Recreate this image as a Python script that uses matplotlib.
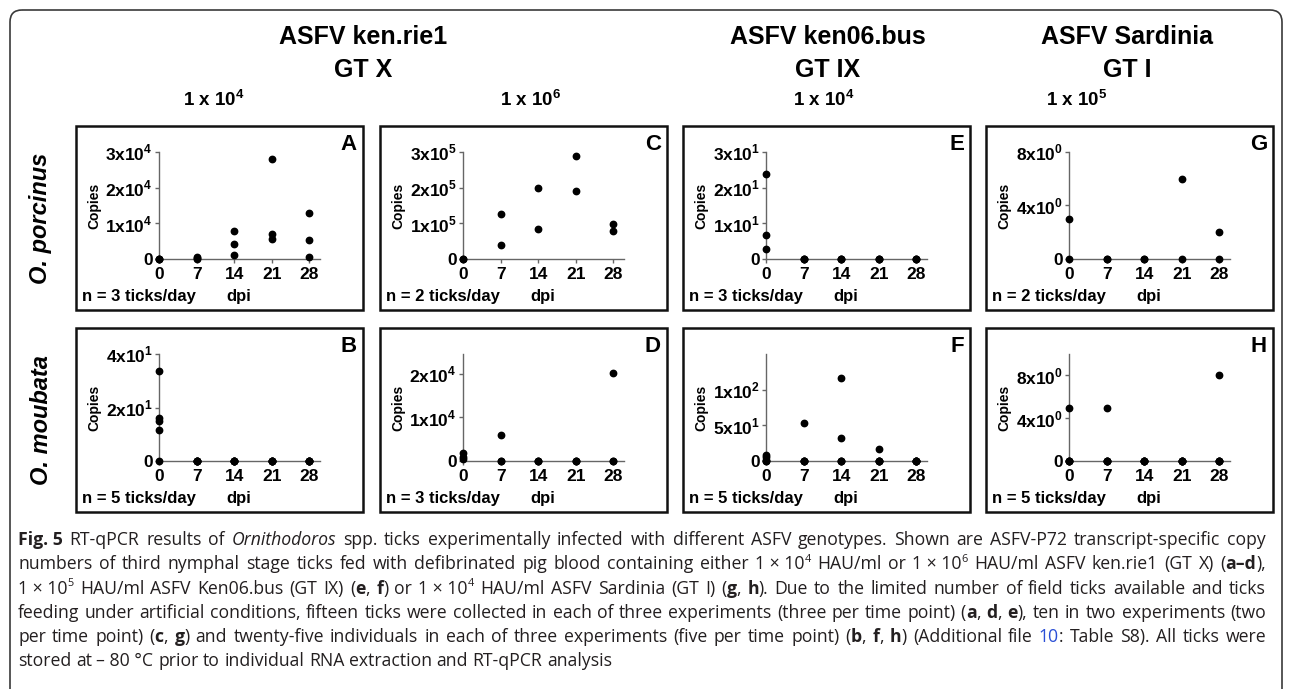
import re
import matplotlib
matplotlib.use('Agg')
import matplotlib.pyplot as plt
from matplotlib.patches import Rectangle, FancyBboxPatch

W, H = 1292, 689
plt.rcParams['font.family'] = ['Liberation Sans', 'DejaVu Sans']
plt.rcParams['mathtext.fontset'] = 'custom'
plt.rcParams['mathtext.rm'] = 'Liberation Sans:bold'
plt.rcParams['mathtext.bf'] = 'Liberation Sans:bold'

# ---- data ----
days = [0, 7, 14, 21, 28]
day_labels = ['0', '7', '14', '21', '28']

vals_A = [[0, 0, 0], [300, 600, 100], [7850, 4200, 1030], [28100, 6900, 5600], [12800, 5400, 560]]
vals_B = [[33.5, 16, 15, 11.5, 0], [0] * 5, [0] * 5, [0] * 5, [0] * 5]
vals_C = [[0, 0], [127000, 39600], [200000, 84000], [289000, 192000], [99000, 79000]]
vals_D = [[1800, 1000, 400], [6030, 0, 0], [0, 0, 0], [0, 0, 0], [20150, 0, 0]]
vals_E = [[23.9, 6.8, 2.9], [0] * 3, [0] * 3, [0] * 3, [0] * 3]
vals_F = [[9, 6, 2, 0, 0], [53.3, 0, 0, 0, 0], [116, 32.2, 0, 0, 0], [17.3, 0, 0, 0, 0], [0] * 5]
vals_G = [[3.0, 0], [0, 0], [0, 0], [6.0, 0], [2.0, 0]]
vals_H = [[5.0, 0, 0, 0, 0], [5.0, 0, 0, 0, 0], [0] * 5, [0] * 5, [8.0, 0, 0, 0, 0]]

yticks = {
    'A': ([0, 1e4, 2e4, 3e4], ['0', r'1x10$^{4}$', r'2x10$^{4}$', r'3x10$^{4}$'], 3e4),
    'B': ([0, 20, 40], ['0', r'2x10$^{1}$', r'4x10$^{1}$'], 40),
    'C': ([0, 1e5, 2e5, 3e5], ['0', r'1x10$^{5}$', r'2x10$^{5}$', r'3x10$^{5}$'], 3e5),
    'D': ([0, 1e4, 2e4], ['0', r'1x10$^{4}$', r'2x10$^{4}$'], 2.45e4),
    'E': ([0, 10, 20, 30], ['0', r'1x10$^{1}$', r'2x10$^{1}$', r'3x10$^{1}$'], 30),
    'F': ([0, 50, 100], ['0', r'5x10$^{1}$', r'1x10$^{2}$'], 150),
    'G': ([0, 4, 8], ['0', r'4x10$^{0}$', r'8x10$^{0}$'], 8),
    'H': ([0, 4, 8], ['0', r'4x10$^{0}$', r'8x10$^{0}$'], 10),
}
panel_vals = {'A': vals_A, 'B': vals_B, 'C': vals_C, 'D': vals_D,
              'E': vals_E, 'F': vals_F, 'G': vals_G, 'H': vals_H}
ticks_per_day = {'A': 3, 'B': 5, 'C': 2, 'D': 3, 'E': 3, 'F': 5, 'G': 2, 'H': 5}
panel_grid = {'A': (0, 0), 'B': (0, 1), 'C': (1, 0), 'D': (1, 1),
              'E': (2, 0), 'F': (2, 1), 'G': (3, 0), 'H': (3, 1)}

strains = [('ASFV ken.rie1', 'GT X', 363), ('ASFV ken06.bus', 'GT IX', 828), ('ASFV Sardinia', 'GT I', 1127)]
doses = [('4', 214), ('6', 531), ('4', 824), ('5', 1077)]
species = ['O. porcinus', 'O. moubata']

caption = [
    "**Fig.\u00a05** RT-qPCR results of _Ornithodoros_ spp. ticks experimentally infected with different ASFV genotypes. Shown are ASFV-P72 transcript-specific copy",
    "numbers of third nymphal stage ticks fed with defibrinated pig blood containing either 1\u00a0×\u00a010^4^ HAU/ml or 1\u00a0×\u00a010^6^ HAU/ml ASFV ken.rie1 (GT X) (**a–d**),",
    "1\u00a0×\u00a010^5^ HAU/ml ASFV Ken06.bus (GT IX) (**e**, **f**) or 1\u00a0×\u00a010^4^ HAU/ml ASFV Sardinia (GT I) (**g**, **h**). Due to the limited number of field ticks available and ticks",
    "feeding under artificial conditions, fifteen ticks were collected in each of three experiments (three per time point) (**a**, **d**, **e**), ten in two experiments (two",
    "per time point) (**c**, **g**) and twenty-five individuals in each of three experiments (five per time point) (**b**, **f**, **h**) (Additional file {10}: Table S8). All ticks were",
    "stored at \u2013\u00a080\u00a0°C prior to individual RNA extraction and RT-qPCR analysis",
]

# ---- layout (pixels) ----
box_left = [76, 380, 683, 986]
row_top = [126, 328]
box_w, box_h = 287, 184

fig = plt.figure(figsize=(W / 100, H / 100), dpi=100)
ov = fig.add_axes([0, 0, 1, 1])
ov.set_xlim(0, W)
ov.set_ylim(H, 0)
ov.axis('off')

ov.add_patch(FancyBboxPatch((10, 10), W - 20, H + 40, boxstyle='round,pad=0,rounding_size=12',
                            fill=False, ec='#3a3a3a', lw=1.2))

for name, l2, cx in strains:
    ov.text(cx, 37, name, ha='center', va='center', fontsize=18, fontweight='bold')
    ov.text(cx, 70, l2, ha='center', va='center', fontsize=18, fontweight='bold')
for sup, cx in doses:
    ov.text(cx, 100, r'1 x 10$^{%s}$' % sup, ha='center', va='center', fontsize=13.5, fontweight='bold')

for r, sp in enumerate(species):
    ov.text(41, row_top[r] + box_h / 2, sp, rotation=90, ha='center', va='center',
            fontsize=17, fontweight='bold', fontstyle='italic')

for key, (c, r) in panel_grid.items():
    bx, by = box_left[c], row_top[r]
    ov.add_patch(Rectangle((bx, by), box_w, box_h, fill=False, ec='#111111', lw=1.8))
    ov.text(bx + box_w - 6, by + 8, key, ha='right', va='top', fontsize=16, fontweight='bold')
    ov.text(bx + 6, by + 171, 'n = %d ticks/day' % ticks_per_day[key], ha='left', va='center',
            fontsize=12, fontweight='bold')
    ov.text(bx + 163, by + 171, 'dpi', ha='center', va='center', fontsize=12, fontweight='bold')
    ov.text(bx + 18, by + 80, 'Copies', rotation=90, ha='center', va='center',
            fontsize=10, fontweight='bold')

    ax_l, ax_t = bx + 83, by + 26
    ax = fig.add_axes([ax_l / W, 1 - (ax_t + 107) / H, 161 / W, 107 / H])
    ax.patch.set_alpha(0)
    vals = panel_vals[key]
    xs = [d for d, vs in zip(days, vals) for v in vs]
    ys = [v for vs in vals for v in vs]
    ax.plot(xs, ys, 'o', ms=4.6, color='black', clip_on=False, zorder=5)
    tv, tl, top = yticks[key]
    ax.set_xlim(0, 30)
    ax.set_ylim(0, top)
    ax.set_xticks(days)
    ax.set_xticklabels(day_labels, fontsize=12.5, fontweight='bold')
    ax.set_yticks(tv)
    ax.set_yticklabels(tl, fontsize=12.5, fontweight='bold')
    for s in ['top', 'right']:
        ax.spines[s].set_visible(False)
    for s in ['left', 'bottom']:
        ax.spines[s].set_color('#666666')
        ax.spines[s].set_linewidth(1.0)
    ax.tick_params(axis='both', length=3, width=1.0, color='#666666', pad=1.5)
    ax.tick_params(axis='x', pad=2.5)

# ---- caption with mixed styles, justified ----
renderer = fig.canvas.get_renderer()
CAP_FONT = ['Open Sans', 'DejaVu Sans']
cap_color = '#231f20'
link_color = '#2a4fd6'


def parse(line):
    st = {'b': False, 'i': False, 's': False, 'l': False}
    words = [[]]
    for part in re.split(r'(\*\*|_|\^|\{|\})', line):
        if part == '**':
            st['b'] = not st['b']
        elif part == '_':
            st['i'] = not st['i']
        elif part == '^':
            st['s'] = not st['s']
        elif part == '{':
            st['l'] = True
        elif part == '}':
            st['l'] = False
        else:
            for k, ch in enumerate(part.split(' ')):
                if k > 0:
                    words.append([])
                if ch:
                    words[-1].append((ch.replace('\u00a0', ' '), dict(st)))
    return [w for w in words if w]


def draw_run(x, y, txt, st, fs):
    size = fs * 0.62 if st['s'] else fs
    yy = y - fs * 1.39 * 0.42 if st['s'] else y
    t = ov.text(x, yy, txt, fontsize=size, family=CAP_FONT,
                fontweight='bold' if st['b'] else 'normal',
                fontstyle='italic' if st['i'] else 'normal',
                color=link_color if st['l'] else cap_color, va='baseline', ha='left')
    return t, t.get_window_extent(renderer).width


def word_width(word, fs):
    w = 0
    for txt, st in word:
        t, ww = draw_run(0, -100, txt, st, fs)
        t.remove()
        w += ww
    return w


parsed = [parse(l) for l in caption]
cap_left, cap_right = 18, 1266
base_fs = 10.0
nat = []
for words in parsed[:-1]:
    ws = sum(word_width(w, base_fs) for w in words)
    nat.append(ws + 0.26 * base_fs * 1.39 * (len(words) - 1))
fs = base_fs * (cap_right - cap_left) / max(nat) * 0.985

y0, dy = 545, 24.3
for li, words in enumerate(parsed):
    widths = [word_width(w, fs) for w in words]
    if li < len(parsed) - 1:
        gap = (cap_right - cap_left - sum(widths)) / (len(words) - 1)
    else:
        gap = 0.26 * fs * 1.39
    x = cap_left
    y = y0 + li * dy
    for w, ww in zip(words, widths):
        xx = x
        for txt, st in w:
            _, rw = draw_run(xx, y, txt, st, fs)
            xx += rw
        x += ww + gap

fig.savefig('out.png', dpi=100)
